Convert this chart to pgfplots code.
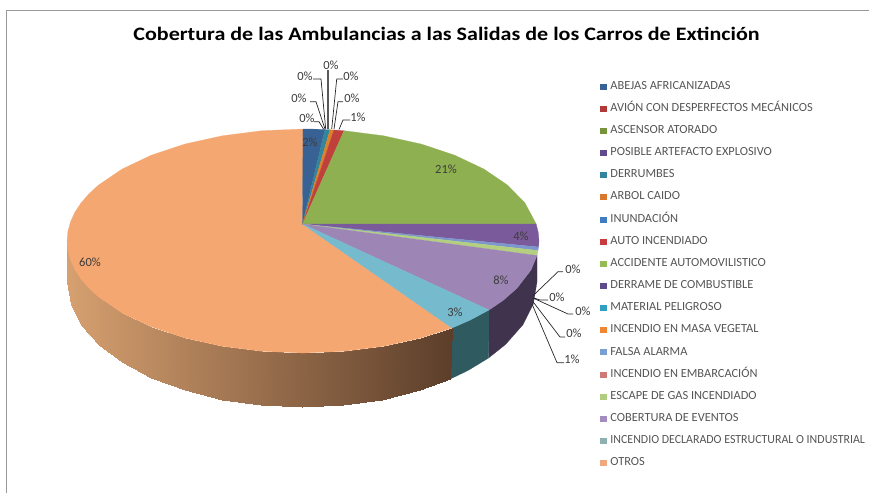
\documentclass[border=0pt]{standalone}
\usepackage{fontspec}
\setmainfont{Carlito}
\usepackage{pgfplots}
\pgfplotsset{compat=1.18}
\definecolor{cBlue}{RGB}{56,98,148}
\definecolor{cTeal}{RGB}{49,133,156}
\definecolor{cOrange}{RGB}{217,130,43}
\definecolor{cRed}{RGB}{192,64,60}
\definecolor{cGreen}{RGB}{143,176,80}
\definecolor{cPurple}{RGB}{122,90,154}
\definecolor{cThin}{RGB}{125,150,205}
\definecolor{cLGreen}{RGB}{179,207,127}
\definecolor{cLPurple}{RGB}{157,134,182}
\definecolor{cLTeal}{RGB}{118,186,205}
\definecolor{cPeach}{RGB}{245,167,114}
\definecolor{cSidePurple}{RGB}{63,51,78}
\definecolor{cSideTeal}{RGB}{46,90,96}
\definecolor{cLabel}{RGB}{60,60,60}
\definecolor{cLeg}{RGB}{85,85,85}
\definecolor{lRed}{RGB}{176,58,55}
\definecolor{lGreen}{RGB}{119,147,60}
\definecolor{lPurple}{RGB}{95,74,139}
\definecolor{lOrange}{RGB}{217,120,44}
\definecolor{lBlue}{RGB}{63,124,192}
\definecolor{lAuto}{RGB}{200,60,64}
\definecolor{lAcc}{RGB}{149,187,85}
\definecolor{lMat}{RGB}{49,160,192}
\definecolor{lMasa}{RGB}{240,134,47}
\definecolor{lFalsa}{RGB}{122,159,208}
\definecolor{lEmb}{RGB}{208,122,120}
\definecolor{lEsc}{RGB}{176,204,128}
\definecolor{lCob}{RGB}{162,140,192}
\definecolor{lDec}{RGB}{143,176,176}
\definecolor{lOtr}{RGB}{240,168,128}
\begin{document}
\begin{tikzpicture}
\useasboundingbox (0,0) rectangle (869pt,493pt);
\begin{axis}[
  scale only axis, width=869pt, height=493pt,
  xmin=0, xmax=869, ymin=0, ymax=493, y dir=reverse,
  hide axis, clip=false,
  colormap={side}{rgb255=(214,160,112) rgb255=(92,62,42)},
  point meta min=67, point meta max=452,
  legend style={at={(axis cs:600,82)}, anchor=north west, draw=none, fill=none,
    font=\fontsize{12.4}{12.4}\selectfont\color{cLeg}, row sep=13.25pt, inner sep=0pt,
    nodes={inner sep=0pt, text height=7pt, text depth=1.9pt, anchor=west}},
  legend cell align=left,
  legend image code/.code={\fill[#1, draw=none] (0pt,-3pt) rectangle (6.5pt,3pt); \node[draw=none, fill=none, inner sep=0pt, minimum width=0pt, minimum height=0pt] at (10pt,0pt) {};},
]
% frame
\addplot[draw=black!40, line width=1pt, forget plot] coordinates {(6.5,493) (6.5,10) (869,10)};
% side walls
\addplot[fill=cSidePurple, draw=cSidePurple, line width=.2pt, forget plot] coordinates {
 (537,255.5) (531,270) (516.9,288.3) (503.1,300.4) (489,310)
 (488.6,358) (505.5,344.5) (522.9,324.8) (533.4,303.7) (537,282)} -- cycle;
\addplot[fill=cSideTeal, draw=cSideTeal, line width=.2pt, forget plot] coordinates {
 (489,310) (469.9,320.2) (452,328) (450.3,379) (468.2,370.4) (488.6,358)} -- cycle;
\addplot[surf, shader=interp, mesh/rows=2, point meta=x, forget plot] coordinates {
 (452,328) (421,338) (383.7,346.3) (344,351.3) (303,353) (262,351.3) (222.3,346.3) (185,338) (151.3,326.8) (122.2,313) (98.6,297) (81.2,279.3) (70.6,260.4) (67,241)
 (450.3,379) (419.5,390.3) (382.4,399.5) (342.9,405.1) (302,407) (261.1,405.1) (221.6,399.5) (184.5,390.3) (150.9,377.8) (122,362.3) (98.5,344.5) (81.1,324.8) (70.6,303.7) (67,282)};
% top slices
\addplot[fill=cPeach, draw=cPeach, line width=.2pt, forget plot] coordinates {
 (302.5,224) (452,328) (421,338) (383.7,346.3) (344,351.3) (303,353) (262,351.3) (222.3,346.3) (185,338) (151.3,326.8) (122.2,313) (98.6,297) (89.1,288.3) (81.2,279.3) (75,270) (70.6,260.4) (67.9,250.8) (67,241) (67.9,231.2) (70.6,221.6) (75,212) (81.2,202.7) (89.1,193.7) (98.6,185) (122.2,169) (151.3,155.2) (185,144) (222.3,135.8) (262,130.7) (303,129)} -- cycle;
\addplot[fill=cBlue, draw=cBlue, line width=.2pt, forget plot] coordinates {(302.5,224) (303,129) (314,129.1) (325,129.5)} -- cycle;
\addplot[fill=cTeal, draw=cTeal, line width=.2pt, forget plot] coordinates {(302.5,224) (325,129.5) (330,129.8)} -- cycle;
\addplot[fill=cOrange, draw=cOrange, line width=.2pt, forget plot] coordinates {(302.5,224) (330,129.8) (334,130)} -- cycle;
\addplot[fill=cRed, draw=cRed, line width=.2pt, forget plot] coordinates {(302.5,224) (334,130) (344,130.7)} -- cycle;
\addplot[fill=cGreen, draw=cGreen, line width=.2pt, forget plot] coordinates {(302.5,224) (344,130.7) (383.7,135.8) (421,144) (454.7,155.2) (483.8,169) (507.4,185) (524.8,202.7) (536.2,224)} -- cycle;
\addplot[fill=cPurple, draw=cPurple, line width=.2pt, forget plot] coordinates {(302.5,224) (536.2,224) (538.4,233.2) (539,241) (538.6,247)} -- cycle;
\addplot[fill=cThin, draw=cThin, line width=.2pt, forget plot] coordinates {(302.5,224) (538.6,247) (538,250.5)} -- cycle;
\addplot[fill=cLGreen, draw=cLGreen, line width=.2pt, forget plot] coordinates {(302.5,224) (538,250.5) (537,255.5)} -- cycle;
\addplot[fill=cLPurple, draw=cLPurple, line width=.2pt, forget plot] coordinates {(302.5,224) (537,255.5) (531,270) (516.9,288.3) (503.1,300.4) (489,310)} -- cycle;
\addplot[fill=cLTeal, draw=cLTeal, line width=.2pt, forget plot] coordinates {(302.5,224) (489,310) (469.9,320.2) (452,328)} -- cycle;
% leader lines
\addplot[draw=black!65, line width=1.3pt, forget plot] coordinates {(328,70) (328,129)};
\addplot[draw=black!85, line width=.7pt, forget plot] coordinates {(313,79) (321,79) (325.7,129)};
\addplot[draw=black!85, line width=.7pt, forget plot] coordinates {(310,101.7) (316,101.7) (325,129)};
\addplot[draw=black!85, line width=.7pt, forget plot] coordinates {(314,121.7) (319,121.7) (323.5,129)};
\addplot[draw=black!85, line width=.7pt, forget plot] coordinates {(343,79) (336.7,79) (331.7,129)};
\addplot[draw=black!85, line width=.7pt, forget plot] coordinates {(343,101.7) (338,101.7) (334,129)};
\addplot[draw=black!85, line width=.7pt, forget plot] coordinates {(350,120) (343,120) (339,129.5)};
\addplot[draw=black!85, line width=.7pt, forget plot] coordinates {(563,271.7) (558,271.7) (533,295.7)};
\addplot[draw=black!85, line width=.7pt, forget plot] coordinates {(548,300) (540,300) (533,297.7)};
\addplot[draw=black!85, line width=.7pt, forget plot] coordinates {(573,314) (568,314) (533,298)};
\addplot[draw=black!85, line width=.7pt, forget plot] coordinates {(565,337) (560,337) (533,301.7)};
\addplot[draw=black!85, line width=.7pt, forget plot] coordinates {(564,362.7) (557,362.7) (532,304)};
% legend
\addlegendimage{cBlue}\addlegendentry{ABEJAS AFRICANIZADAS}
\addlegendimage{lRed}\addlegendentry{AVIÓN CON DESPERFECTOS MECÁNICOS}
\addlegendimage{lGreen}\addlegendentry{ASCENSOR ATORADO}
\addlegendimage{lPurple}\addlegendentry{POSIBLE ARTEFACTO EXPLOSIVO}
\addlegendimage{cTeal}\addlegendentry{DERRUMBES}
\addlegendimage{lOrange}\addlegendentry{ARBOL CAIDO}
\addlegendimage{lBlue}\addlegendentry{INUNDACIÓN}
\addlegendimage{lAuto}\addlegendentry{AUTO INCENDIADO}
\addlegendimage{lAcc}\addlegendentry{ACCIDENTE AUTOMOVILISTICO}
\addlegendimage{lPurple}\addlegendentry{DERRAME DE COMBUSTIBLE}
\addlegendimage{lMat}\addlegendentry{MATERIAL PELIGROSO}
\addlegendimage{lMasa}\addlegendentry{INCENDIO EN MASA VEGETAL}
\addlegendimage{lFalsa}\addlegendentry{FALSA ALARMA}
\addlegendimage{lEmb}\addlegendentry{INCENDIO EN EMBARCACIÓN}
\addlegendimage{lEsc}\addlegendentry{ESCAPE DE GAS INCENDIADO}
\addlegendimage{lCob}\addlegendentry{COBERTURA DE EVENTOS}
\addlegendimage{lDec}\addlegendentry{\scalebox{0.96}[1]{INCENDIO DECLARADO ESTRUCTURAL O INDUSTRIAL}}
\addlegendimage{lOtr}\addlegendentry{OTROS}
% texts
\node[font=\fontsize{19}{19}\selectfont\bfseries, text=black, xscale=1.16] at (axis cs:446.5,33.5) {Cobertura de las Ambulancias a las Salidas de los Carros de Extinción};
\tikzset{pl/.style={font=\fontsize{12.5}{12.5}\selectfont, text=cLabel, inner sep=0pt}}
\node[pl] at (axis cs:331,65) {0\%};
\node[pl] at (axis cs:305,76) {0\%};
\node[pl] at (axis cs:351,76) {0\%};
\node[pl] at (axis cs:299,98) {0\%};
\node[pl] at (axis cs:352,98) {0\%};
\node[pl] at (axis cs:307,118) {0\%};
\node[pl] at (axis cs:358,117) {1\%};
\node[pl] at (axis cs:310,142) {2\%};
\node[pl] at (axis cs:446,169) {21\%};
\node[pl] at (axis cs:521,236) {4\%};
\node[pl] at (axis cs:90,262) {60\%};
\node[pl] at (axis cs:501,280) {8\%};
\node[pl] at (axis cs:455,312) {3\%};
\node[pl] at (axis cs:573,269) {0\%};
\node[pl] at (axis cs:557,297) {0\%};
\node[pl] at (axis cs:583,311) {0\%};
\node[pl] at (axis cs:574,333) {0\%};
\node[pl] at (axis cs:572,359) {1\%};
\end{axis}
\end{tikzpicture}
\end{document}
